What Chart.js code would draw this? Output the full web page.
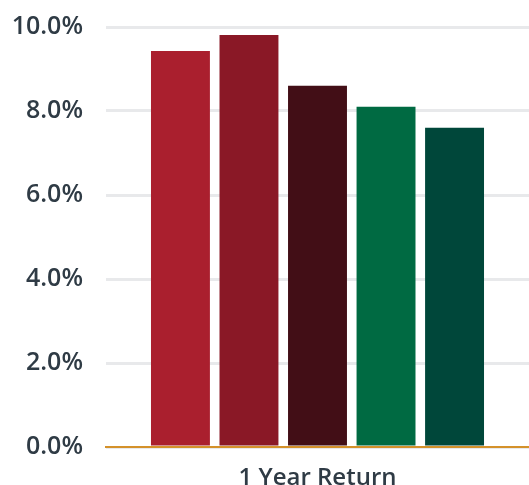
<!DOCTYPE html>
<html>
<head>
<meta charset="utf-8">
<script src="https://cdn.jsdelivr.net/npm/chart.js@4"></script>
<style>
  html, body { margin: 0; padding: 0; background: #fff; }
  #wrap { width: 529px; height: 485px; }
</style>
</head>
<body>
<div id="wrap"><canvas id="chart"></canvas></div>
<script>
const categories = ['1 Year Return'];
const seriesNames = ['Series 1', 'Series 2', 'Series 3', 'Series 4', 'Series 5'];
const seriesValues = [9.43, 9.81, 8.6, 8.1, 7.6];
const seriesColors = ['#aa1f2e', '#8a1826', '#420e16', '#006a42', '#00473a'];
const yTicks = [0, 2, 4, 6, 8, 10];

const datasets = seriesNames.map((name, i) => ({
    label: name,
    data: [seriesValues[i]],
    backgroundColor: seriesColors[i],
    barPercentage: 0.86,
    categoryPercentage: 0.81
}));

new Chart(document.getElementById('chart'), {
    type: 'bar',
    data: { labels: categories, datasets: datasets },
    options: {
        responsive: true,
        maintainAspectRatio: false,
        animation: false,
        layout: { padding: { top: 27, right: 0, left: 0, bottom: 0 } },
        plugins: { legend: { display: false }, tooltip: { enabled: false } },
        scales: {
            x: {
                grid: { display: false },
                border: { color: '#d4912a', width: 2 },
                afterFit: scale => { scale.height = 38; },
                ticks: {
                    color: '#2f3b45',
                    font: { family: 'Open Sans', size: 24, weight: '600' },
                    padding: 9
                }
            },
            y: {
                min: 0,
                max: 10,
                afterBuildTicks: axis => { axis.ticks = yTicks.map(v => ({ value: v })); },
                afterFit: scale => { scale.width = 106; scale.paddingTop = 0; scale.paddingBottom = 0; },
                grid: { color: '#e8e9eb', lineWidth: 3, drawTicks: false },
                border: { display: false },
                ticks: {
                    color: '#2f3b45',
                    font: { family: 'Open Sans', size: 25, weight: '600' },
                    padding: 23,
                    callback: v => v.toFixed(1) + '%'
                }
            }
        }
    }
});
</script>
</body>
</html>
